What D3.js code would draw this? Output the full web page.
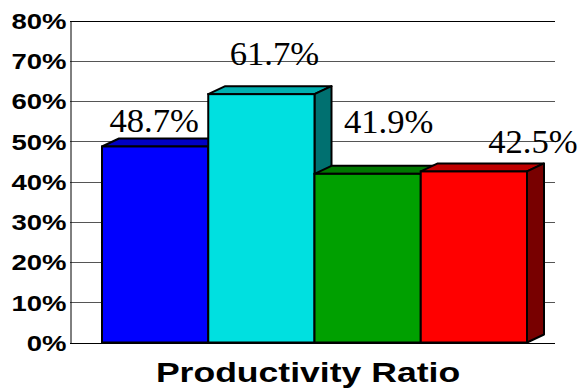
<!DOCTYPE html>
<html>
<head>
<meta charset="utf-8">
<script src="https://cdn.jsdelivr.net/npm/d3@7"></script>
<style>
  body { margin: 0; background: #fff; }
  svg { display: block; }
</style>
</head>
<body>
<div id="chart"></div>
<script>
// Data
const categories = ['Series 1', 'Series 2', 'Series 3', 'Series 4'];
const values = [0.487, 0.617, 0.419, 0.425];
const valueLabels = ['48.7%', '61.7%', '41.9%', '42.5%'];
const yTicks = [0, 0.1, 0.2, 0.3, 0.4, 0.5, 0.6, 0.7, 0.8];
const chartTitle = 'Productivity Ratio';

// Colours: front, top, side
const frontColors = ['#0000ff', '#00e0e0', '#00a000', '#ff0000'];
const topColors = ['#0000c4', '#00b0b0', '#007800', '#c00000'];
const sideColors = ['#000090', '#007070', '#005000', '#780000'];

const width = 581, height = 390;
const depthX = 17, depthY = 8;

const svg = d3.select('#chart')
    .append('svg')
    .attr('width', width)
    .attr('height', height);

const x = d3.scaleBand()
    .domain(categories)
    .range([102, 527])
    .padding(0);

const y = d3.scaleLinear()
    .domain([0, 0.8])
    .range([342.5, 20.5]);

// Gridlines
svg.append('g')
    .selectAll('line')
    .data(yTicks)
    .enter()
    .append('line')
    .attr('x1', 70)
    .attr('x2', 555)
    .attr('y1', d => Math.round(y(d)) + 0.5)
    .attr('y2', d => Math.round(y(d)) + 0.5)
    .attr('stroke', (d, i) => (i === 0 || i === yTicks.length - 1) ? '#000' : '#555')
    .attr('stroke-width', 1);

// Y axis
const yAxis = d3.axisLeft(y)
    .tickValues(yTicks)
    .tickSize(0)
    .tickPadding(0)
    .tickFormat(d3.format('.0%'));

const yAxisG = svg.append('g')
    .attr('transform', 'translate(70.5,0)')
    .call(yAxis);

yAxisG.select('.domain')
    .attr('stroke', '#000')
    .attr('stroke-width', 1);

yAxisG.selectAll('.tick text')
    .attr('x', 0)
    .attr('dy', '0.36em')
    .attr('transform', 'translate(-4,0) scale(1.25,1)')
    .style('font-family', '"Liberation Sans", Arial, sans-serif')
    .style('font-weight', 'bold')
    .style('font-size', '22px')
    .attr('fill', '#000');

// 3D bars
const bars = svg.append('g')
    .selectAll('g.bar')
    .data(values)
    .enter()
    .append('g')
    .attr('class', 'bar');

const pts = a => a.map(p => p.join(',')).join(' ');

bars.append('polygon')
    .attr('points', (d, i) => {
        const x0 = x(categories[i]), x1 = x0 + x.bandwidth(), yt = y(d);
        return pts([[x0, yt], [x1, yt], [x1 + depthX, yt - depthY], [x0 + depthX, yt - depthY]]);
    })
    .attr('fill', (d, i) => topColors[i])
    .attr('stroke', '#000')
    .attr('stroke-width', 2)
    .attr('stroke-linejoin', 'round');

bars.append('polygon')
    .attr('points', (d, i) => {
        const x1 = x(categories[i]) + x.bandwidth(), yt = y(d), yb = y(0);
        return pts([[x1, yt], [x1 + depthX, yt - depthY], [x1 + depthX, yb - depthY], [x1, yb]]);
    })
    .attr('fill', (d, i) => sideColors[i])
    .attr('stroke', '#000')
    .attr('stroke-width', 2)
    .attr('stroke-linejoin', 'round');

bars.append('rect')
    .attr('x', (d, i) => x(categories[i]))
    .attr('y', d => y(d))
    .attr('width', x.bandwidth())
    .attr('height', d => y(0) - y(d))
    .attr('fill', (d, i) => frontColors[i])
    .attr('stroke', '#000')
    .attr('stroke-width', 2);

// Value labels (nudged as in the original)
const labelNudge = [[-1, -14.5], [13, -29], [21, -41], [59, -18]];

svg.append('g')
    .selectAll('text')
    .data(values)
    .enter()
    .append('text')
    .attr('transform', (d, i) => {
        const cx = x(categories[i]) + x.bandwidth() / 2 + labelNudge[i][0];
        const cy = y(d) + labelNudge[i][1];
        return `translate(${cx},${cy}) scale(1.05,1)`;
    })
    .attr('text-anchor', 'middle')
    .style('font-family', '"Liberation Serif", "Times New Roman", serif')
    .style('font-size', '33px')
    .attr('fill', '#000')
    .text((d, i) => valueLabels[i]);

// Title
svg.append('text')
    .attr('transform', 'translate(308,382) scale(1.27,1)')
    .attr('text-anchor', 'middle')
    .style('font-family', '"Liberation Sans", Arial, sans-serif')
    .style('font-weight', 'bold')
    .style('font-size', '28px')
    .attr('fill', '#000')
    .text(chartTitle);
</script>
</body>
</html>
